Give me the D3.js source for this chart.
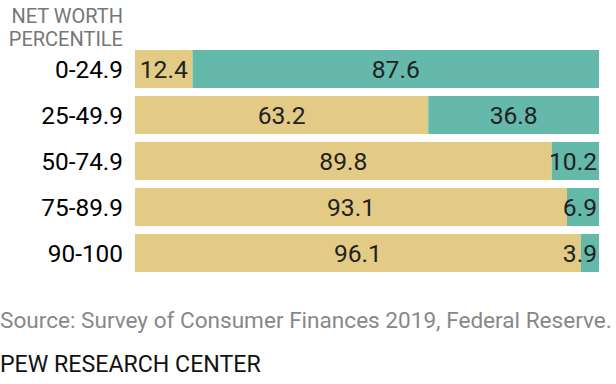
<!DOCTYPE html>
<html>
<head>
<meta charset="utf-8">
<script src="https://cdn.jsdelivr.net/npm/d3@7"></script>
<style>
  body { margin: 0; background: #fff; }
  text { font-family: Roboto, "Liberation Sans", sans-serif; }
</style>
</head>
<body>
<svg id="chart" width="616" height="384"></svg>
<script>
// net worth percentile groups
const categories = ["0-24.9", "25-49.9", "50-74.9", "75-89.9", "90-100"];
const firstShare = [12.4, 63.2, 89.8, 93.1, 96.1];
const secondShare = [87.6, 36.8, 10.2, 6.9, 3.9];
const colors = ["#e3cb85", "#64b9aa"];

const svg = d3.select("#chart");

let x = d3.scaleLinear().domain([0, 100]).range([135, 599]);
let y = d3.scaleBand().domain(categories).range([50, 272]).paddingInner(8 / 46).paddingOuter(0);

// scale a text's font size so it spans roughly the given width
function fit(sel, size, width) {
  sel.attr("font-size", size);
  let w = sel.node().getComputedTextLength();
  sel.attr("font-size", size * width / w);
  return sel;
}

const rows = categories.map((c, i) => ({ cat: c, a: firstShare[i], b: secondShare[i] }));

// stacked segments
const segs = [];
rows.forEach(r => {
  segs.push({ cat: r.cat, x0: 0, x1: r.a, v: r.a, k: 0 });
  segs.push({ cat: r.cat, x0: r.a, x1: r.a + r.b, v: r.b, k: 1 });
});

svg.append("g").selectAll("rect")
  .data(segs)
  .enter().append("rect")
  .attr("x", d => x(d.x0))
  .attr("y", d => y(d.cat))
  .attr("width", d => x(d.x1) - x(d.x0))
  .attr("height", y.bandwidth())
  .attr("fill", d => colors[d.k]);

// font size for numbers, matched on "12.4"
let probe = svg.append("text").text("12.4");
fit(probe, 20, 48);
const numSize = +probe.attr("font-size");
probe.remove();

// value labels, centred but kept inside the bar's right edge
svg.append("g").selectAll("text")
  .data(segs)
  .enter().append("text")
  .attr("text-anchor", "middle")
  .attr("y", d => y(d.cat) + y.bandwidth() / 2 + 9)
  .attr("font-size", numSize)
  .attr("fill", "#222")
  .text(d => d.v.toFixed(1))
  .attr("x", function(d) {
    let w = this.getComputedTextLength();
    let c = (x(d.x0) + x(d.x1)) / 2;
    return Math.min(c, x(100) - 2 - w / 2);
  });

// category labels
let cats = svg.append("g").selectAll("text")
  .data(categories)
  .enter().append("text")
  .attr("x", 123)
  .attr("y", d => y(d) + y.bandwidth() / 2 + 9)
  .attr("text-anchor", "end")
  .attr("fill", "#000")
  .text(d => d);
let p2 = svg.append("text").text(categories[0]);
fit(p2, 20, 68);
cats.attr("font-size", p2.attr("font-size"));
p2.remove();

// header
svg.append("text").attr("x", 123).attr("y", 23).attr("text-anchor", "end")
  .attr("font-size", 20).attr("fill", "#777").text("NET WORTH");
svg.append("text").attr("x", 123).attr("y", 46).attr("text-anchor", "end")
  .attr("font-size", 20).attr("fill", "#777").text("PERCENTILE");

// footer
let src = svg.append("text").attr("x", 0).attr("y", 328)
  .attr("fill", "#888")
  .text("Source: Survey of Consumer Finances 2019, Federal Reserve.");
fit(src, 18, 612);
let pew = svg.append("text").attr("x", 0).attr("y", 372)
  .attr("fill", "#111")
  .text("PEW RESEARCH CENTER");
fit(pew, 19, 261);
</script>
</body>
</html>
